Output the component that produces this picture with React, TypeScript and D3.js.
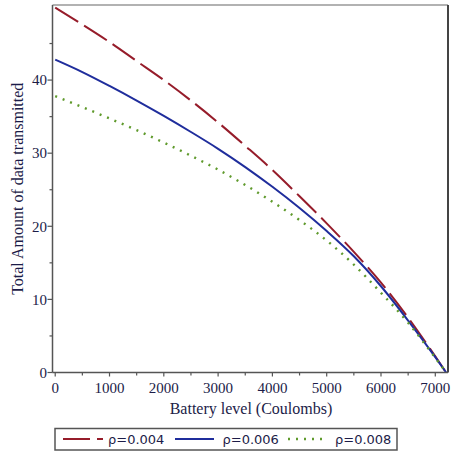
import React from "react";
import * as d3 from "d3";

const batteryLevels = [0, 500, 1000, 1500, 2000, 2500, 3000, 3500, 4000, 4500, 5000, 5500, 6000, 6500, 7000, 7200];
const rho004 = [49.9, 47.6, 45.2, 42.6, 40.0, 37.2, 34.2, 31.0, 27.7, 24.1, 20.4, 16.5, 12.3, 7.5, 2.2, 0];
const rho006 = [42.8, 41.1, 39.2, 37.2, 35.1, 32.9, 30.6, 28.1, 25.4, 22.5, 19.35, 15.9, 11.8, 7.1, 2.1, 0];
const rho008 = [37.8, 36.3, 34.75, 33.15, 31.45, 29.65, 27.75, 25.65, 23.35, 20.85, 18.05, 14.75, 10.9, 6.8, 2.0, 0];
const seriesLabels = ["ρ=0.004", "ρ=0.006", "ρ=0.008"];
const xTicks = [0, 1000, 2000, 3000, 4000, 5000, 6000, 7000];
const xMinorTicks = [500, 1500, 2500, 3500, 4500, 5500, 6500];
const yTicks = [0, 10, 20, 30, 40];
const yMinorTicks = [5, 15, 25, 35, 45];

const W = 451, H = 451;
const L = 52.5, R = 448, T = 5, B = 372.5;
const textColor = "#1c1c48";
const axisColor = "#555";

export default function App() {
  const x = d3.scaleLinear().domain([-50, 7234]).range([L, R]);
  const y = d3.scaleLinear().domain([0, 50.27]).range([B, T]);
  const line = (vals: number[]) =>
    d3.line<number>().x((_, i) => x(batteryLevels[i])).y((d) => y(d)).curve(d3.curveMonotoneX)(vals) || "";

  const styles = [
    { color: "#961c2a", dash: "27 7", width: 2, cap: "butt" },
    { color: "#1f2d9c", dash: "none", width: 2, cap: "butt" },
    { color: "#5f9a2c", dash: "2 6", width: 2.4, cap: "butt" },
  ];
  const data = [rho004, rho006, rho008];

  return (
    <svg width={W} height={H} style={{ position: "absolute", left: 0, top: 0 }}>
      <rect x={0} y={0} width={W} height={H} fill="#fff" />
      {data.map((vals, i) => (
        <path key={i} d={line(vals)} fill="none" stroke={styles[i].color} strokeWidth={styles[i].width}
          strokeDasharray={styles[i].dash} strokeLinecap={styles[i].cap as any} />
      ))}
      <line x1={L} x2={R} y1={T} y2={T} stroke="#999" strokeWidth={1.5} />
      <line x1={R} x2={R} y1={T} y2={B} stroke="#444" strokeWidth={2} />
      <line x1={L} x2={L} y1={T} y2={B} stroke={axisColor} strokeWidth={1.5} />
      <line x1={L} x2={R} y1={B} y2={B} stroke={axisColor} strokeWidth={1.5} />
      {yTicks.map((t) => (
        <g key={"y" + t}>
          <line x1={L - 5} x2={L} y1={y(t)} y2={y(t)} stroke={axisColor} strokeWidth={1.2} />
          <text x={L - 5.5} y={y(t)} dy="0.35em" textAnchor="end" fontFamily="Liberation Serif, serif" fontSize={15} fill={textColor}>{t}</text>
        </g>
      ))}
      {yMinorTicks.map((t) => (
        <line key={"ym" + t} x1={L - 3} x2={L} y1={y(t)} y2={y(t)} stroke={axisColor} strokeWidth={1.2} />
      ))}
      {xTicks.map((t) => (
        <g key={"x" + t}>
          <line x1={x(t)} x2={x(t)} y1={B} y2={B + 4} stroke={axisColor} strokeWidth={1.2} />
          <text x={x(t)} y={393} textAnchor="middle" fontFamily="Liberation Serif, serif" fontSize={15} fill={textColor}>{t}</text>
        </g>
      ))}
      {xMinorTicks.map((t) => (
        <line key={"xm" + t} x1={x(t)} x2={x(t)} y1={B} y2={B + 3} stroke={axisColor} strokeWidth={1.2} />
      ))}
      <text x={251} y={414} textAnchor="middle" fontFamily="Liberation Serif, serif" fontSize={16} fill={textColor}>Battery level (Coulombs)</text>
      <text transform={`translate(22.5, ${(T + B) / 2}) rotate(-90)`} textAnchor="middle" fontFamily="Liberation Serif, serif" fontSize={16} fill={textColor}>Total Amount of data transmitted</text>
      <rect x={55} y={428.5} width={342} height={21.5} fill="#fff" stroke="#555" strokeWidth={1.5} />
      {[{ x0: 63, x1: 103, tx: 108 }, { x0: 175, x1: 214, tx: 222.5 }, { x0: 288, x1: 324, tx: 335 }].map((p, i) => (
        <g key={"lg" + i}>
          <line x1={p.x0} x2={p.x1} y1={439} y2={439} stroke={styles[i].color} strokeWidth={styles[i].width}
            strokeDasharray={styles[i].dash} />
          <text x={p.tx} y={439} dy="0.36em" fontFamily="DejaVu Sans, sans-serif" fontSize={13} fill={textColor}>{seriesLabels[i]}</text>
        </g>
      ))}
    </svg>
  );
}
